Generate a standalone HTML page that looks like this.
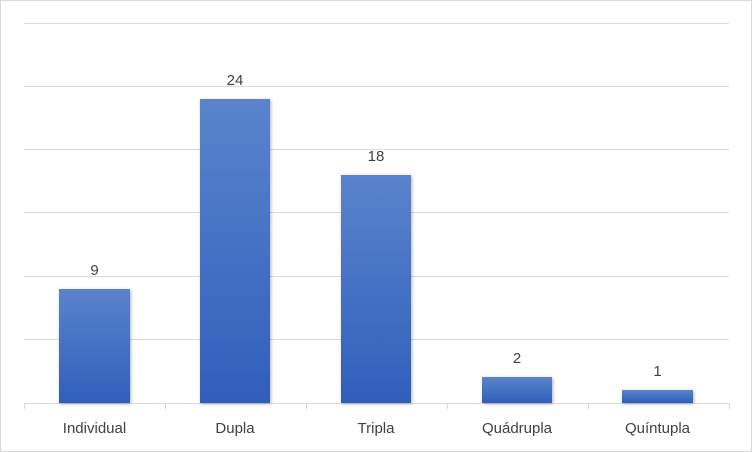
<!DOCTYPE html><html><head><style>body{margin:0}svg{display:block}</style></head><body>
<svg width="752" height="452" xmlns="http://www.w3.org/2000/svg" font-family="Liberation Sans, sans-serif">
<defs><linearGradient id="g" x1="0" y1="0" x2="0" y2="1"><stop offset="0" stop-color="#5b83cc"/><stop offset="1" stop-color="#2f5fbb"/></linearGradient>
<filter id="s" x="-20%" y="-5%" width="140%" height="110%"><feDropShadow dx="1" dy="1" stdDeviation="1.5" flood-color="#000" flood-opacity="0.3"/></filter></defs>
<rect x="0.5" y="0.5" width="751" height="451" fill="#fff" stroke="#d9d9d9"/>
<g stroke="#d9d9d9" stroke-width="1">
<line x1="24" x2="729" y1="23.5" y2="23.5"/><line x1="24" x2="729" y1="86.5" y2="86.5"/><line x1="24" x2="729" y1="149.5" y2="149.5"/><line x1="24" x2="729" y1="212.5" y2="212.5"/><line x1="24" x2="729" y1="276.5" y2="276.5"/><line x1="24" x2="729" y1="339.5" y2="339.5"/><line x1="24" x2="729" y1="403.5" y2="403.5"/>
<line x1="24.5" x2="24.5" y1="403" y2="409"/><line x1="165.5" x2="165.5" y1="403" y2="409"/><line x1="306.5" x2="306.5" y1="403" y2="409"/><line x1="447.5" x2="447.5" y1="403" y2="409"/><line x1="588.5" x2="588.5" y1="403" y2="409"/><line x1="729.5" x2="729.5" y1="403" y2="409"/>
</g>
<g fill="url(#g)" filter="url(#s)">
<rect x="59" y="289" width="71" height="114"/>
<rect x="200" y="99" width="70" height="304"/>
<rect x="341" y="175" width="70" height="228"/>
<rect x="482" y="377" width="70" height="26"/>
<rect x="622" y="390" width="71" height="13"/>
</g>
<g font-size="15" fill="#404040" text-anchor="middle">
<text x="94.5" y="275">9</text><text x="235" y="85">24</text><text x="376" y="161">18</text><text x="517" y="363">2</text><text x="657.5" y="376">1</text>
<text x="94.5" y="433">Individual</text><text x="235" y="433">Dupla</text><text x="376" y="433">Tripla</text><text x="517" y="433">Quádrupla</text><text x="657.5" y="433">Quíntupla</text>
</g>
</svg></body></html>
